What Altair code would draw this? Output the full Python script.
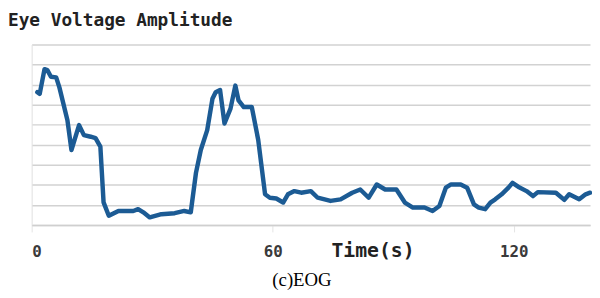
import altair as alt
import pandas as pd

# Time (s) and eye-voltage amplitude (arbitrary units, gridline steps)
time_s = [1.4, 2.0, 3.2, 3.9, 4.8, 6.1, 6.9, 8.9, 9.9, 11.8, 13.0, 14.7, 15.9, 17.1,
          17.9, 19.2, 21.6, 25.3, 26.5, 27.8, 29.4, 32.3, 35.6, 38.0, 39.6, 40.9,
          42.1, 43.7, 45.0, 45.8, 46.9, 48.0, 49.5, 50.7, 51.5, 52.8, 54.8, 56.4,
          58.1, 59.3, 60.9, 62.6, 63.8, 65.4, 67.1, 69.5, 71.2, 74.4, 76.9, 79.8,
          81.8, 83.9, 85.9, 88.0, 90.8, 92.9, 94.9, 97.8, 99.8, 101.5, 103.1, 104.4,
          106.8, 108.4, 110.1, 111.3, 112.9, 114.2, 115.4, 117.0, 118.7, 119.7,
          121.1, 123.2, 124.8, 126.0, 130.5, 132.6, 133.8, 136.3, 137.9, 139.0]
amplitude = [6.62, 6.54, 7.77, 7.72, 7.39, 7.36, 6.86, 5.22, 3.74, 4.98, 4.48, 4.40,
             4.33, 3.91, 1.13, 0.46, 0.70, 0.70, 0.79, 0.63, 0.38, 0.54, 0.59, 0.70,
             0.63, 2.60, 3.74, 4.73, 6.29, 6.62, 6.73, 5.06, 5.80, 6.95, 6.21, 5.88,
             5.88, 4.24, 1.53, 1.36, 1.32, 1.12, 1.53, 1.69, 1.61, 1.69, 1.36, 1.20,
             1.28, 1.61, 1.77, 1.36, 2.02, 1.77, 1.77, 1.12, 0.87, 0.87, 0.70, 0.95,
             1.86, 2.02, 2.02, 1.86, 1.03, 0.87, 0.79, 1.12, 1.28, 1.53, 1.86, 2.10,
             1.91, 1.69, 1.44, 1.64, 1.61, 1.25, 1.53, 1.28, 1.53, 1.61]
x_ticks = [0, 60, 120]
y_grid = list(range(0, 10))

title_text = ["Eye Voltage Amplitude"]
xlabel_text = ["Time(s)"]
caption_text = ["(c)EOG"]

df = pd.DataFrame({"t": time_s, "v": amplitude})

line = alt.Chart(df).mark_line(
    color="#1c5b94", strokeWidth=4.5, strokeJoin="round", strokeCap="round"
).encode(
    x=alt.X("t:Q", scale=alt.Scale(domain=[0, 139], nice=False, zero=False),
            axis=alt.Axis(values=x_ticks, title=None, grid=False,
                          labelFont="DejaVu Sans Mono", labelFontSize=16,
                          labelFontWeight="bold", labelColor="#3a3a3a",
                          tickColor="#e4e4e4", tickSize=7, labelPadding=12,
                          domainColor="#cfcfcf", domainWidth=1.5)),
    y=alt.Y("v:Q", scale=alt.Scale(domain=[0, 9], nice=False),
            axis=alt.Axis(values=y_grid, title=None, labels=False, ticks=False,
                          grid=True, gridColor="#d2d2d2", gridWidth=1.5,
                          domainColor="#e0e0e0")),
)

title = alt.Chart(pd.DataFrame({"s": title_text})).mark_text(
    font="DejaVu Sans Mono", fontSize=18, fontWeight="bold", color="#222222",
    align="left", baseline="middle"
).encode(x=alt.value(-24), y=alt.value(-24), text="s:N")

xlabel = alt.Chart(pd.DataFrame({"s": xlabel_text})).mark_text(
    font="DejaVu Sans Mono", fontSize=20, fontWeight="bold", color="#222222",
    align="center", baseline="middle"
).encode(x=alt.value(346), y=alt.value(209), text="s:N")

caption = alt.Chart(pd.DataFrame({"s": caption_text})).mark_text(
    font="Liberation Serif", fontSize=19, color="#000000",
    align="center", baseline="middle"
).encode(x=alt.value(274), y=alt.value(239), text="s:N")

chart = alt.layer(line, title, xlabel, caption).properties(
    width=566, height=183,
    autosize=alt.AutoSizeParams(type="none"),
    padding={"left": 24, "top": 35, "right": 2, "bottom": 70},
).configure_view(stroke=None)

chart.save("out.html", embed_options={"renderer": "svg", "actions": False})
